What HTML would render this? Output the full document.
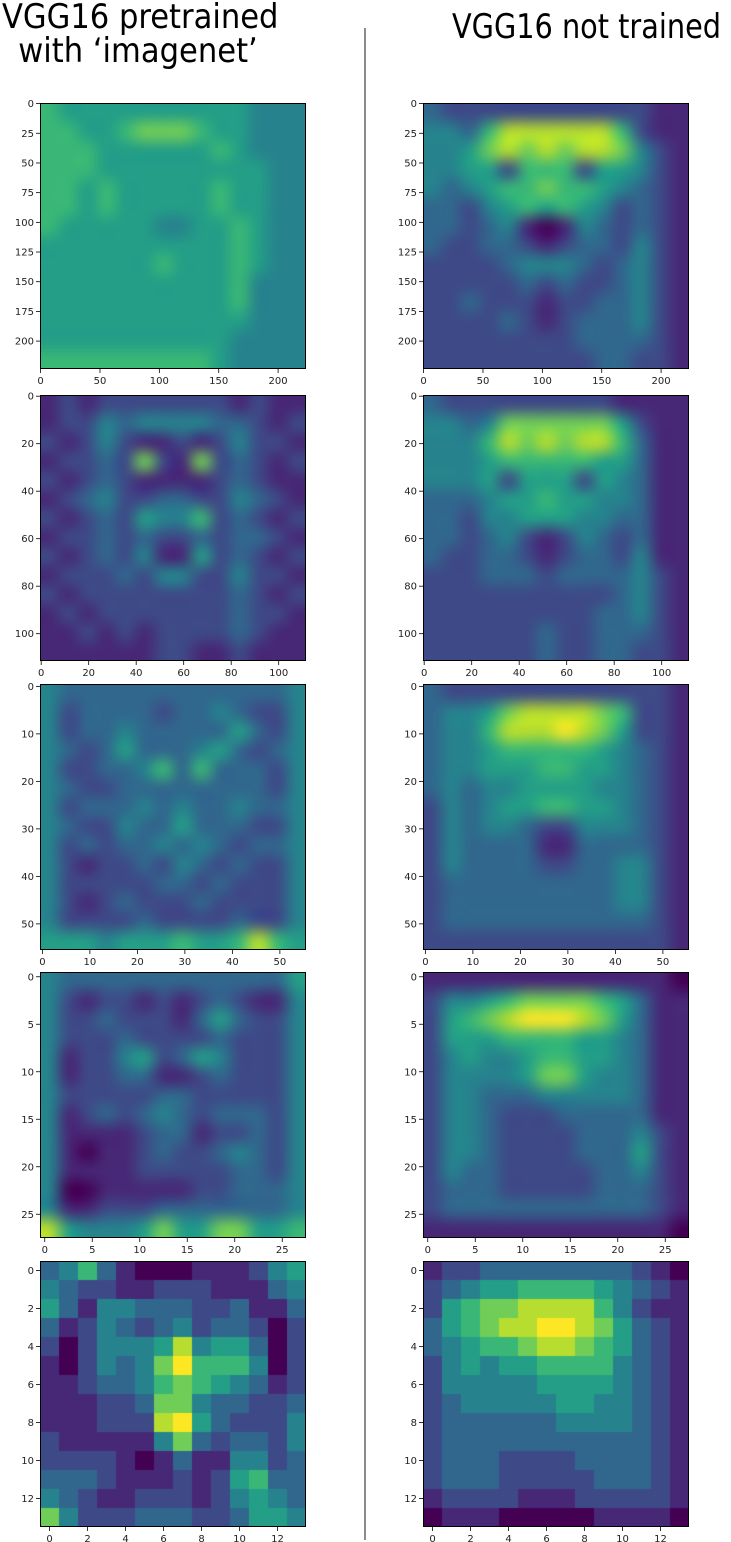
<!DOCTYPE html>
<html><head><meta charset="utf-8">
<style>
html,body{margin:0;padding:0;background:#fff;}
body{width:731px;height:1542px;position:relative;overflow:hidden;font-family:"DejaVu Sans","Liberation Sans",sans-serif;}
.title{position:absolute;font-family:"DejaVu Sans Condensed","Liberation Sans Narrow","Liberation Sans",sans-serif;font-size:34px;color:#000;white-space:nowrap;line-height:34px;}
#divider{position:absolute;left:364px;top:28px;width:2px;height:1512px;background:#8a8a8a;}
</style></head>
<body>
<div class="title" style="left:2px;top:0px;text-align:center;width:272px;">VGG16 pretrained<br>with ‘imagenet’</div>
<div class="title" style="left:452px;top:10px;transform:scaleX(0.94);transform-origin:left top;">VGG16 not trained</div>
<div id="divider"></div>
<svg id="chart" width="731" height="1542" style="position:absolute;left:0;top:0"></svg>
<script>
const sizes=[224,112,56,28,14];
const tickSteps=[50,20,10,5,2];
const yTickSteps=[25,20,10,5,2];
const rowTops=[103,395,684,972,1261];
const colLefts=[40,423];
const smoothRows=[true,true,true,true,false];

const r1L=[
[6,5,5,5,5,5,5,5,5,5,5,4,4,4],[6,6,5,5,6,7,7,7,6,5,5,4,4,4],[6,6,6,5,5,5,5,5,5,6,5,4,4,4],
[6,6,6,5,5,5,5,5,5,5,5,5,4,4],[6,6,5,6,5,5,5,5,5,6,5,5,4,4],[6,6,5,6,5,5,5,5,5,6,5,5,4,4],
[6,5,5,5,5,5,4,4,5,5,6,5,4,4],[5,5,5,5,5,5,5,5,5,5,6,5,4,4],[5,5,5,5,5,5,6,5,5,5,6,5,4,4],
[5,5,5,5,5,5,5,5,5,5,6,4,4,4],[5,5,5,5,5,5,5,5,5,5,6,4,4,4],[5,5,5,5,5,5,5,5,5,5,5,4,4,4],
[5,5,5,5,5,5,5,5,5,5,4,4,4,4],[6,6,6,6,6,6,6,6,6,5,4,4,4,4]];
const r1R=[
[3,2,2,2,2,2,2,2,2,2,2,2,1,1],[4,4,3,6,8,8,8,8,8,8,6,2,1,1],[4,4,5,7,8,7,8,7,8,8,7,4,2,1],
[4,4,5,5,2,6,6,6,2,5,5,4,2,1],[4,3,4,5,6,6,7,6,6,5,4,3,2,1],[3,3,2,4,5,6,5,6,5,4,2,3,2,1],
[3,3,2,3,4,1,0,1,4,3,2,3,2,1],[3,2,2,3,3,2,1,2,3,3,2,4,2,1],[2,2,2,2,3,4,4,4,3,2,3,4,2,1],
[2,2,2,2,2,3,2,3,2,2,3,4,2,1],[2,2,3,2,2,2,1,2,2,3,3,4,2,1],[2,2,2,2,3,2,1,2,3,3,3,4,2,1],
[2,2,2,2,2,2,2,2,3,3,3,3,2,1],[2,2,2,2,2,2,2,2,2,3,3,2,2,1]];
const r2L=[
[1,2,1,2,2,2,2,2,2,2,1,2,1,1],[1,2,2,4,3,4,4,4,4,3,3,2,1,2],[2,1,2,4,2,1,1,2,1,2,4,2,2,1],
[1,2,2,3,2,7,2,1,7,2,3,2,1,2],[2,1,2,3,2,1,1,1,1,2,3,2,1,1],[1,2,3,4,2,2,3,3,2,2,4,3,2,1],
[2,1,2,3,2,5,4,4,6,2,3,2,1,2],[1,2,2,3,2,3,2,2,3,2,3,3,2,1],[2,1,2,3,2,4,1,1,5,2,3,2,1,2],
[1,2,2,2,3,2,4,4,2,2,4,2,2,1],[2,1,2,2,2,2,2,2,2,2,3,2,1,2],[1,2,1,2,2,2,2,2,2,2,3,2,2,1],
[1,1,2,1,2,1,2,2,2,2,3,2,1,1],[1,1,1,1,1,1,2,2,1,1,2,1,1,1]];
const r2R=[
[3,2,2,2,2,2,2,2,2,2,1,1,1,1],[4,4,3,4,7,7,7,7,7,7,5,2,1,1],[4,4,4,6,8,7,8,7,8,8,6,3,1,1],
[4,4,4,5,6,6,6,6,6,5,5,3,1,1],[4,4,4,5,2,5,5,5,2,5,4,3,1,1],[3,3,3,4,5,5,6,5,5,4,4,3,1,1],
[3,3,2,4,4,5,5,5,4,4,3,3,1,1],[3,3,2,3,4,2,1,2,4,3,2,3,1,1],[3,2,2,3,3,2,1,2,3,3,2,4,1,1],
[2,2,2,3,3,3,2,3,3,3,3,4,2,1],[2,2,2,2,2,2,2,2,2,2,3,4,2,1],[2,2,2,2,2,2,2,2,2,3,3,4,2,1],
[2,2,2,2,2,2,3,2,2,3,3,3,2,1],[2,2,2,2,2,2,3,2,2,3,3,2,2,1]];
const r3L=[
[4,3,3,3,3,3,3,3,3,3,3,3,3,4],[4,2,3,3,3,3,2,3,3,4,3,2,2,4],[4,2,3,3,4,3,3,3,3,3,5,3,2,4],
[4,3,2,3,5,3,3,3,4,5,3,2,3,4],[4,2,2,3,3,4,6,3,6,3,3,3,2,4],[4,3,2,2,3,3,3,3,3,3,3,3,2,4],
[4,2,3,3,3,4,3,4,3,3,4,3,3,4],[4,3,2,2,4,3,3,5,3,3,3,2,2,4],[4,2,3,2,3,3,4,3,4,3,2,3,3,4],
[4,2,1,2,2,3,2,4,3,2,3,2,2,4],[4,2,2,2,2,2,3,3,2,3,2,2,2,4],[4,2,1,2,3,2,2,2,3,2,2,2,2,4],
[4,2,2,2,2,3,2,2,2,2,3,2,2,4],[5,5,5,4,5,5,5,6,5,5,6,8,6,5]];
const r3R=[
[3,2,2,2,2,2,2,2,2,2,2,2,2,1],[3,4,4,5,7,8,8,8,8,7,6,2,2,1],[3,4,4,6,8,8,8,9,8,7,5,2,2,1],
[3,4,4,5,6,6,6,6,6,5,4,3,2,1],[3,4,4,5,5,5,6,6,5,5,4,3,2,1],[3,4,3,4,4,5,5,5,5,4,4,3,2,1],
[2,4,3,4,5,5,6,6,5,5,4,3,2,1],[2,4,3,4,4,3,2,2,4,4,4,3,2,1],[2,4,3,3,3,3,1,1,3,3,3,3,2,1],
[2,4,3,3,3,3,2,2,3,3,4,4,2,1],[2,3,3,3,3,3,3,3,3,3,4,4,2,1],[2,3,3,3,3,3,3,3,3,3,4,4,2,1],
[2,3,3,3,3,3,3,3,3,3,3,3,2,1],[2,2,2,2,2,2,2,2,2,2,2,2,2,1]];
const r4L=[
[4,3,3,3,3,3,3,3,3,3,3,3,3,5],[4,2,1,2,2,1,2,1,2,3,2,1,1,4],[4,2,2,3,2,2,2,1,3,5,3,2,2,4],
[4,2,2,2,3,2,2,2,2,3,2,2,2,4],[4,1,2,2,4,5,2,3,5,4,2,2,2,4],[4,1,2,2,3,3,1,1,2,3,2,2,2,4],
[4,2,2,2,2,2,3,3,2,2,2,2,2,4],[4,1,2,3,2,3,4,3,2,3,3,3,2,4],[4,1,1,1,1,2,3,3,1,2,2,3,2,4],
[4,1,0,1,1,2,3,2,2,3,4,3,2,4],[4,1,1,1,1,2,2,2,2,2,3,3,2,4],[4,0,0,1,1,1,1,1,2,2,3,3,3,4],
[4,1,1,2,2,2,3,3,3,3,3,3,3,4],[8,5,4,4,4,5,7,5,5,7,7,5,5,6]];
const r4R=[
[1,1,1,1,1,1,1,1,1,1,1,1,1,0],[2,4,4,5,6,7,7,7,7,6,5,3,1,1],[2,5,6,7,8,9,9,9,8,7,5,3,1,1],
[2,5,5,5,6,6,6,6,5,5,4,3,1,1],[2,4,5,4,4,5,6,6,5,5,4,3,1,1],[2,4,4,4,4,5,7,7,5,4,4,3,1,1],
[2,4,4,3,3,3,4,4,4,4,4,3,1,1],[2,4,4,3,2,2,2,3,3,3,3,3,1,1],[2,4,4,3,2,2,2,2,3,3,3,4,2,1],
[2,4,4,3,2,2,2,2,3,3,3,5,2,1],[2,4,3,3,2,2,2,2,2,3,3,4,2,1],[2,3,3,3,2,2,2,2,2,3,3,3,2,1],
[2,3,3,3,3,3,3,3,3,3,3,3,2,1],[1,1,1,1,1,1,1,1,1,1,1,1,1,0]];
const r5L=[
[3,4,6,3,1,0,0,0,1,1,1,2,4,5],[4,3,2,2,1,1,2,2,2,1,1,1,3,4],[5,3,1,4,4,3,3,3,2,2,3,1,1,3],
[3,1,2,4,3,2,3,4,2,3,3,2,0,2],[2,0,2,4,4,4,5,8,4,5,5,3,0,2],[1,0,2,4,3,4,7,9,6,6,6,4,0,2],
[1,1,2,3,3,4,6,7,6,5,4,3,1,2],[1,1,1,2,2,3,7,7,4,3,3,2,2,3],[1,1,1,2,2,2,8,9,5,3,2,2,2,4],
[2,1,1,1,1,1,4,7,3,2,3,3,2,4],[2,2,2,2,1,0,1,3,1,1,4,4,2,3],[3,3,3,2,1,1,1,2,1,2,5,6,3,3],
[4,3,2,1,1,2,2,2,1,2,4,5,4,3],[7,4,2,2,2,3,3,3,2,2,3,5,5,4]];
const r5R=[
[1,2,2,3,3,3,3,3,3,3,3,2,1,0],[2,3,4,5,5,6,6,6,6,5,4,3,2,1],[2,5,6,7,7,8,8,8,8,6,4,2,1,1],
[3,5,6,7,8,8,9,9,8,7,5,3,2,1],[3,4,5,6,6,7,8,8,7,6,5,3,2,1],[2,4,5,4,5,5,6,6,6,6,4,3,2,1],
[2,4,4,4,4,4,5,5,5,5,4,3,2,1],[2,3,4,4,4,4,4,5,5,4,4,3,2,1],[2,3,3,3,3,3,3,4,4,4,4,3,2,1],
[2,3,3,3,3,3,3,3,3,3,3,3,2,1],[2,3,3,3,2,2,2,2,3,3,3,3,2,1],[2,3,3,3,2,2,2,2,2,3,3,3,2,1],
[1,2,2,2,2,1,1,1,2,2,2,2,2,1],[0,1,1,1,0,0,0,0,0,1,1,1,1,0]];
const grids=[[r1L,r1R],[r2L,r2R],[r3L,r3R],[r4L,r4R],[r5L,r5R]];

const vir=[[68,1,84],[71,45,123],[59,82,139],[44,114,142],[33,145,140],[40,174,128],[94,201,98],[173,220,48],[253,231,37]];
function viridis(v){let t=Math.max(0,Math.min(1,v/9))*8;let i=Math.min(7,Math.floor(t)),f=t-i;
 return vir[i].map((c,k)=>Math.round(c+(vir[i+1][k]-c)*f));}

const W=266,NS="http://www.w3.org/2000/svg";
const svg=document.getElementById('chart');
function mk(tag,attrs){const e=document.createElementNS(NS,tag);for(const k in attrs)e.setAttribute(k,attrs[k]);svg.appendChild(e);return e;}

grids.forEach((pair,ri)=>{
 const N=sizes[ri];
 pair.forEach((g,ci)=>{
  const x0=colLefts[ci],y0=rowTops[ri];
  const rows=g.length,cols=g[0].length;
  const small=document.createElement('canvas');small.width=cols;small.height=rows;
  const sc=small.getContext('2d');const id=sc.createImageData(cols,rows);
  g.forEach((row,r)=>row.forEach((v,c)=>{const col=viridis(v);const p=(r*cols+c)*4;id.data[p]=col[0];id.data[p+1]=col[1];id.data[p+2]=col[2];id.data[p+3]=255;}));
  sc.putImageData(id,0,0);
  const cv=document.createElement('canvas');cv.width=W;cv.height=W;
  cv.style.cssText='position:absolute;left:'+x0+'px;top:'+y0+'px;';
  
  
  const ctx=cv.getContext('2d');
  if(smoothRows[ri]){ctx.imageSmoothingEnabled=true;ctx.imageSmoothingQuality='high';}
  else ctx.imageSmoothingEnabled=false;
  ctx.drawImage(small,0,0,W,W);
  document.body.appendChild(cv);
  const fr=mk('rect',{x:x0+0.5,y:y0+0.5,width:W-1,height:W-1,fill:'none',stroke:'#000','stroke-width':1});
  
  
  const px=v=>(v+0.5)/N*W;
  for(let t=0;t<N;t+=tickSteps[ri]){
    const x=x0+px(t);
    const tl=mk('line',{x1:x,x2:x,y1:y0+W,y2:y0+W+4,stroke:'#000','stroke-width':0.8});
    
    
    const tx=mk('text',{x:x,y:y0+W+15,'font-size':10,'text-anchor':'middle',fill:'#222','font-family':'DejaVu Sans, sans-serif'});
    tx.textContent=t;
    
    
  }
  for(let t=0;t<N;t+=yTickSteps[ri]){
    const y=y0+px(t);
    const tl=mk('line',{x1:x0-4,x2:x0,y1:y,y2:y,stroke:'#000','stroke-width':0.8});
    
    
    const ty=mk('text',{x:x0-6,y:y+3.5,'font-size':10,'text-anchor':'end',fill:'#222','font-family':'DejaVu Sans, sans-serif'});
    ty.textContent=t;
    
    
  }
 });
});
svg.style.zIndex=2;
</script>
</body></html>
